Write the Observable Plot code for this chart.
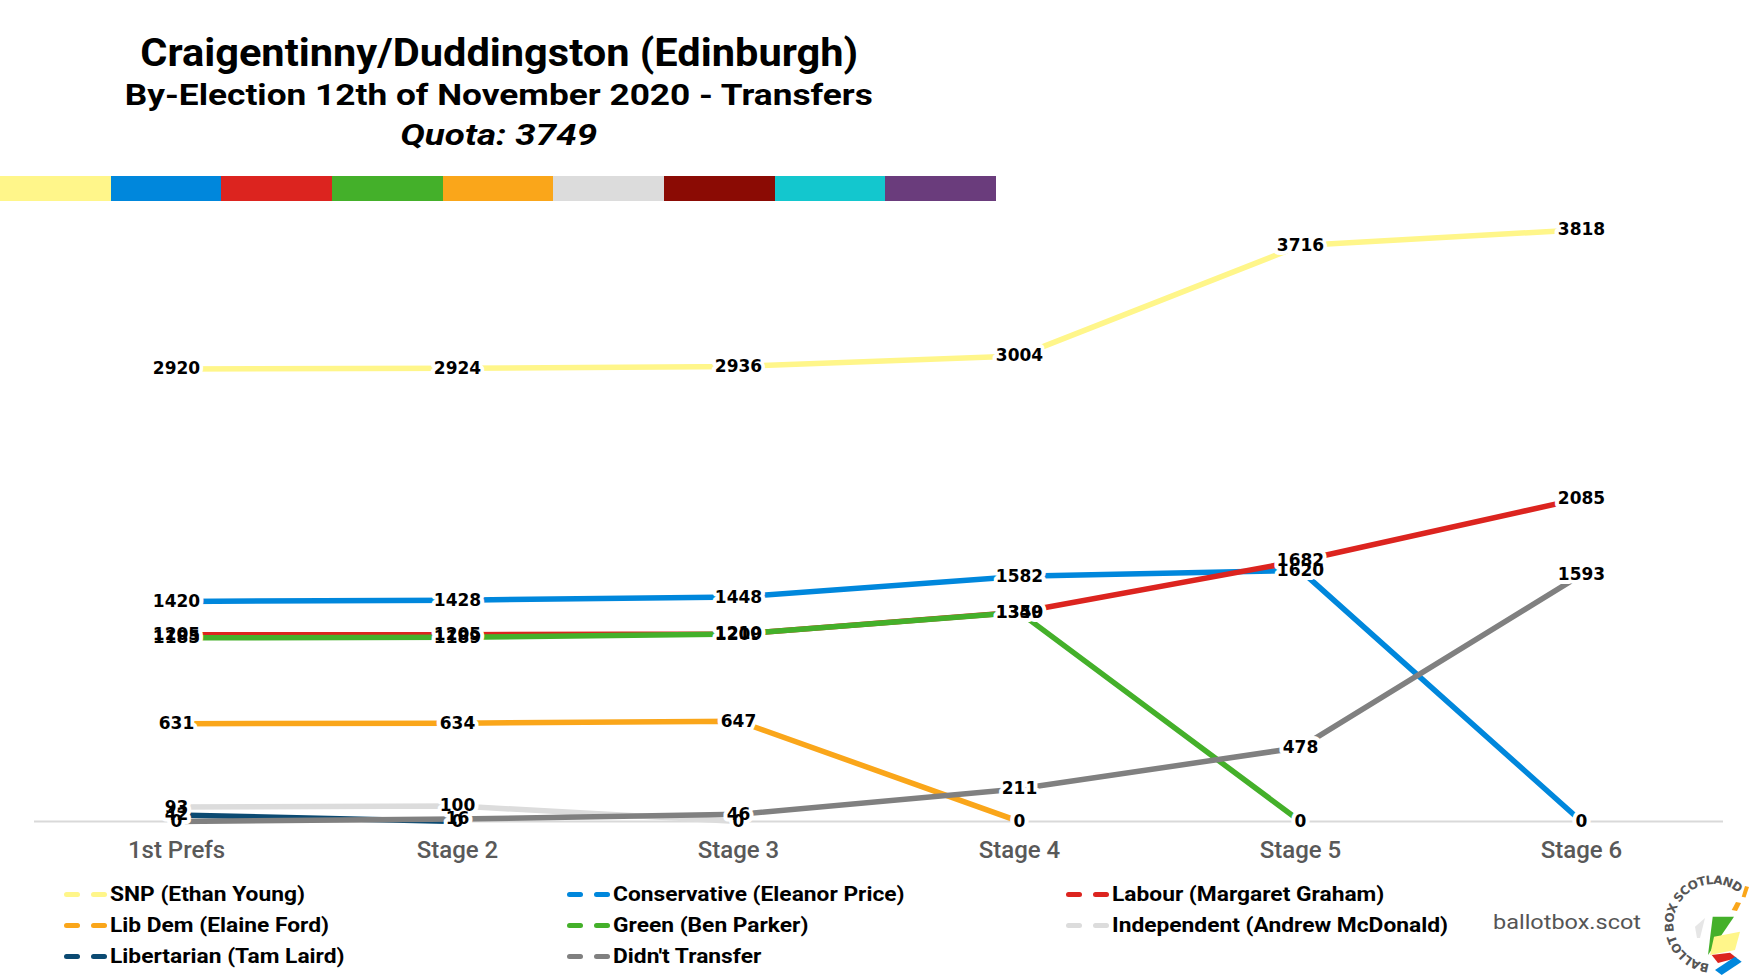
<!DOCTYPE html>
<html>
<head>
<meta charset="utf-8">
<script src="https://cdn.jsdelivr.net/npm/d3@7"></script>
<script src="https://cdn.jsdelivr.net/npm/@observablehq/plot@0.6"></script>
<style>
html,body{margin:0;padding:0;background:#fff;}
#page{position:relative;width:1758px;height:979px;overflow:hidden;background:#fff;font-family:Roboto,"Liberation Sans",sans-serif;}
.t{position:absolute;left:0;width:998px;text-align:center;white-space:nowrap;color:#000;line-height:1;font-weight:700;z-index:2;}
.t span{display:inline-block;transform-origin:50% 50%;}
#strip{position:absolute;left:0;top:176px;width:996px;height:25px;display:flex;z-index:2;}
#strip div{flex:1;}
#chart{position:absolute;left:0;top:205px;z-index:1;}
.lg{position:absolute;display:flex;align-items:center;height:24px;z-index:2;}
.lg .d{display:inline-block;width:16px;height:5px;border-radius:2.5px;}
.lg .d1{margin-right:11px;}
.lg .d2{margin-right:3px;}
.lg .tx{display:inline-block;font-size:20px;font-weight:700;color:#000;white-space:nowrap;transform-origin:0 50%;line-height:1;}
#brand{position:absolute;left:1493px;top:912px;font-size:21px;color:#555;line-height:1;z-index:2;transform-origin:0 50%;}
#logo{position:absolute;left:1650px;top:868px;z-index:2;}
</style>
</head>
<body>
<div id="page">
  <div class="t" id="t1" style="top:34px;font-size:38px;"><span>Craigentinny/Duddingston (Edinburgh)</span></div>
  <div class="t" id="t2" style="top:81px;font-size:29px;"><span>By-Election 12th of November 2020 - Transfers</span></div>
  <div class="t" id="t3" style="top:121px;font-size:29px;font-style:italic;"><span>Quota: 3749</span></div>
  <div id="strip"></div>
  <div id="chart"></div>
  <div id="legend"></div>
  <div id="brand">ballotbox.scot</div>
  <svg id="logo" width="108" height="111" viewBox="1650 868 108 111">
    <defs>
      <path id="arc" d="M 1709.6 963.9 A 40 40 0 1 1 1739.0 893.3"/>
    </defs>
    <text font-family="DejaVu Sans" font-weight="bold" font-size="12" fill="#555" letter-spacing="1">
      <textPath href="#arc" textLength="150" lengthAdjust="spacing">BALLOT BOX SCOTLAND</textPath>
    </text>
    <polygon points="1741.7,896.7 1745,886 1749,887 1745.5,897.5" fill="#faa61a"/>
    <polygon points="1731.7,910 1736,902 1741,903 1737,911" fill="#faa61a"/>
    <polygon points="1695,926.7 1705,918 1700,938 1697,938" fill="#e6e6e6"/>
    <polygon points="1712.7,916.7 1734,916.7 1708,955" fill="#44b02a"/>
    <polygon points="1714,936.7 1740,931.7 1735,950 1710,955" fill="#fff68a"/>
    <polygon points="1711.7,955 1730,952.7 1736.7,958 1718,963" fill="#dc241f"/>
    <polygon points="1715,970 1735,956.7 1741.7,961.7 1721.7,975" fill="#0087dc"/>
  </svg>
</div>
<script>
// ---- data ----
const stages = ["1st Prefs", "Stage 2", "Stage 3", "Stage 4", "Stage 5", "Stage 6"];
const seriesNames = [
  "SNP (Ethan Young)",
  "Conservative (Eleanor Price)",
  "Labour (Margaret Graham)",
  "Lib Dem (Elaine Ford)",
  "Green (Ben Parker)",
  "Independent (Andrew McDonald)",
  "Libertarian (Tam Laird)",
  "Didn't Transfer"
];
const seriesColors = ["#fff68a", "#0087dc", "#dc241f", "#faa61a", "#44b02a", "#dcdcdc", "#0b4a72", "#808080"];
const snpVotes = [2920, 2924, 2936, 3004, 3716, 3818];
const conVotes = [1420, 1428, 1448, 1582, 1620, 0];
const labVotes = [1205, 1205, 1210, 1350, 1682, 2085];
const libDemVotes = [631, 634, 647, 0];
const greenVotes = [1185, 1189, 1209, 1349, 0];
const indVotes = [93, 100, 0];
const libertarianVotes = [42, 0];
const didntTransferVotes = [0, 16, 46, 211, 478, 1593];
const stripColors = ["#fff68a", "#0087dc", "#dc241f", "#44b02a", "#faa61a", "#dcdcdc", "#8b0b04", "#13c7ce", "#6a3c7c"];

const seriesValues = [snpVotes, conVotes, labVotes, libDemVotes, greenVotes, indVotes, libertarianVotes, didntTransferVotes];
const rows = seriesNames.flatMap((name, i) =>
  seriesValues[i].map((v, j) => ({series: name, stage: stages[j], votes: v}))
);

// ---- colour strip ----
const strip = document.getElementById("strip");
stripColors.forEach(c => { const d = document.createElement("div"); d.style.background = c; strip.appendChild(d); });

// ---- chart ----
const labelFont = {fontSize: 17, fontFamily: "DejaVu Sans", fontWeight: "bold"};
const chart = Plot.plot({
  width: 1758,
  height: 676,
  marginLeft: 34,
  marginRight: 35,
  marginTop: 0,
  marginBottom: 60,
  style: {background: "transparent", overflow: "visible"},
  x: {type: "point", domain: stages, range: [174, 1583], padding: 0, axis: null},
  y: {domain: [0, 3900], range: [616, 11.5], axis: null},
  color: {domain: seriesNames, range: seriesColors},
  marks: [
    Plot.ruleY([0], {stroke: "#d9d9d9", strokeWidth: 2}),
    Plot.line(rows, {x: "stage", y: "votes", z: "series", stroke: "series", strokeWidth: 5.5, strokeLinejoin: "round"}),
    Plot.text(rows, {x: "stage", y: "votes", text: d => String(d.votes), fill: "white", stroke: "white", strokeWidth: 8, ...labelFont}),
    Plot.text(rows, {x: "stage", y: "votes", text: d => String(d.votes), fill: "black", ...labelFont}),
    Plot.text(stages, {x: d => d, y: () => 0, dy: 29, text: d => d, fill: "#595959", fontSize: 24, fontFamily: "Roboto", fontWeight: 500})
  ]
});
document.getElementById("chart").appendChild(chart);

// ---- legend ----
const legend = document.getElementById("legend");
const colX = [64, 567, 1066];
const rowY = [894, 925, 956];
seriesNames.forEach((name, i) => {
  const el = document.createElement("div");
  el.className = "lg";
  el.style.left = colX[i % 3] + "px";
  el.style.top = (rowY[Math.floor(i / 3)] - 12) + "px";
  el.innerHTML = `<span class="d d1" style="background:${seriesColors[i]}"></span><span class="d d2" style="background:${seriesColors[i]}"></span><span class="tx"></span>`;
  el.querySelector(".tx").textContent = name;
  legend.appendChild(el);
});

function fit() {
  const targets = {t1: 718, t2: 748, t3: 197};
  for (const id in targets) {
    const s = document.querySelector("#" + id + " span");
    s.style.transform = "none";
    const w = s.getBoundingClientRect().width;
    s.style.transform = `scaleX(${targets[id] / w})`;
  }
  const txs = [...document.querySelectorAll(".lg .tx")];
  txs.forEach(t => t.style.transform = "none");
  const ref = txs[5];
  const k = 336 / ref.getBoundingClientRect().width;
  txs.forEach(t => t.style.transform = `scaleX(${k})`);
  const b = document.getElementById("brand");
  b.style.transform = "none";
  b.style.transform = `scaleX(${148 / b.getBoundingClientRect().width})`;
}
fit();
if (document.fonts && document.fonts.ready) document.fonts.ready.then(fit);
</script>
</body>
</html>
